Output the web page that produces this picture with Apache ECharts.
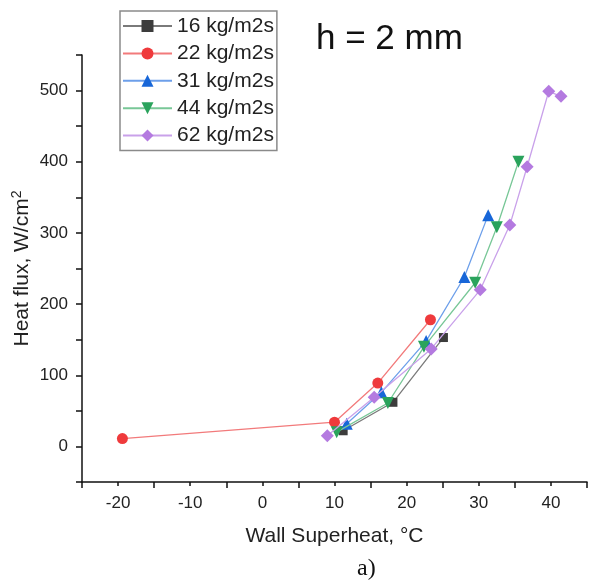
<!DOCTYPE html>
<html><head><meta charset="utf-8">
<script src="https://cdn.jsdelivr.net/npm/echarts@6/dist/echarts.min.js"></script>
<style>html,body{margin:0;padding:0;background:#fff}#c{width:592px;height:583px}</style>
</head><body><div id="c"></div>
<script>
const seriesNames = ['16 kg/m2s','22 kg/m2s','31 kg/m2s','44 kg/m2s','62 kg/m2s'];
const s16 = [[11.2,22],[18.1,62],[25.1,153]];
const s22 = [[-19.4,11],[10.0,34],[16.0,89],[23.3,178]];
const s31 = [[11.7,32],[16.5,76],[22.7,148],[28.0,238],[31.3,325]];
const s44 = [[10.3,20],[17.4,61],[22.4,140],[29.5,230],[32.5,308],[35.5,400]];
const s62 = [[9.0,15],[15.5,69],[23.4,137],[30.2,220],[34.3,311],[36.7,393],[39.7,499],[41.4,492]];
const xTickLabels = [-20,-10,0,10,20,30,40];

const font = '"Liberation Sans", Arial, sans-serif';
const styles = [
  {sym:'rect', size:9, rot:0, color:'#3c3c3c', line:'#7a7a7a'},
  {sym:'circle', size:11, rot:0, color:'#ef3a3c', line:'#f27a7b'},
  {sym:'triangle', size:12, rot:0, color:'#1766d8', line:'#6d9fea'},
  {sym:'triangle', size:12, rot:180, color:'#2aa35c', line:'#78c797'},
  {sym:'diamond', size:13, rot:0, color:'#b47ae0', line:'#c9a1ea'}
];
const datas = [s16,s22,s31,s44,s62];

const chart = echarts.init(document.getElementById('c'), null, {renderer:'canvas'});
chart.setOption({
  animation:false,
  backgroundColor:'#fff',
  grid:{left:82, right:5, top:55, bottom:101, containLabel:false, outerBoundsMode:'none'},
  xAxis:{
    type:'value', min:-25, max:45, interval:10,
    axisLine:{show:true, onZero:false, lineStyle:{color:'#111', width:1.5}},
    axisTick:{show:true, inside:false, length:6, lineStyle:{color:'#111', width:1.5}},
    minorTick:{show:true, splitNumber:2, length:4, lineStyle:{color:'#111', width:1.5}},
    splitLine:{show:false},
    axisLabel:{color:'#222', fontSize:17, fontFamily:font, margin:13,
      customValues:xTickLabels},
    name:'Wall Superheat, °C', nameLocation:'middle', nameGap:44, nameMoveOverlap:false,
    nameTextStyle:{color:'#222', fontSize:21, fontFamily:font}
  },
  yAxis:{
    type:'value', min:-50, max:550, interval:50,
    axisLine:{show:true, onZero:false, lineStyle:{color:'#111', width:1.5}},
    axisTick:{show:true, inside:false, length:6, lineStyle:{color:'#111', width:1.5}},
    splitLine:{show:false},
    axisLabel:{color:'#222', fontSize:17, fontFamily:font, margin:14,
      formatter:function(v){ return (Math.round(v)%100===0)? String(v) : ''; }},
    name:'Heat flux, W/cm{sup|2}', nameLocation:'middle', nameGap:48, nameMoveOverlap:false,
    nameTextStyle:{color:'#222', fontSize:21, fontFamily:font,
      rich:{sup:{fontSize:14, fontFamily:font, color:'#222', verticalAlign:'top', padding:[0,0,10,0]}}}
  },
  legend:{
    orient:'vertical', left:120, top:11,
    data:seriesNames,
    itemWidth:49, itemHeight:15, itemGap:5.4,
    borderColor:'#8a8a8a', borderWidth:1.5, padding:[4,3,4,2],
    backgroundColor:'#fff',
    textStyle:{color:'#222', fontSize:21, fontFamily:font, lineHeight:22}
  },
  graphic:[
    {type:'text', left:316, top:22, style:{text:'h = 2 mm', fontSize:35, fontFamily:font, fill:'#111'}},
    {type:'text', left:357, top:557, style:{text:'a)', fontSize:24, fontFamily:'"Liberation Serif", "Times New Roman", serif', fill:'#111'}}
  ],
  series: datas.map((d,i)=>({
    name:seriesNames[i], type:'line', data:d,
    symbol:styles[i].sym, symbolSize:styles[i].size, symbolRotate:styles[i].rot,
    showAllSymbol:true,
    itemStyle:{color:styles[i].color},
    lineStyle:{color:styles[i].line, width:1.3},
    z:2+i
  }))
});
</script></body></html>
